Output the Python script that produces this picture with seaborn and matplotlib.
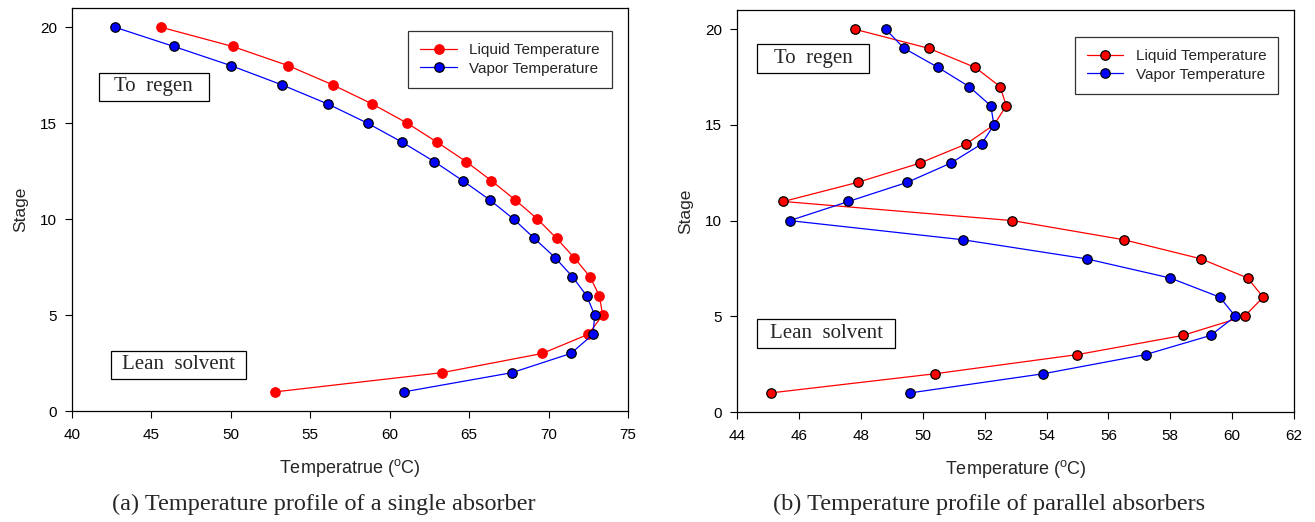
"""
Temperature profiles of a single absorber and parallel absorbers.
"""

import matplotlib

matplotlib.use("Agg")
import matplotlib.pyplot as plt
import pandas as pd
import seaborn as sns
from matplotlib.patches import Rectangle

stages = list(range(20, 0, -1))

# (a) single absorber, stage 20 -> 1
single_liquid = [45.6, 50.1, 53.6, 56.4, 58.9, 61.1, 63.0, 64.8, 66.4, 67.9,
                 69.3, 70.5, 71.6, 72.6, 73.2, 73.4, 72.5, 69.6, 63.3, 52.8]
single_vapor = [42.7, 46.4, 50.0, 53.2, 56.1, 58.6, 60.8, 62.8, 64.6, 66.3,
                67.8, 69.1, 70.4, 71.5, 72.4, 72.9, 72.8, 71.4, 67.7, 60.9]

# (b) parallel absorbers, stage 20 -> 1
parallel_liquid = [47.8, 50.2, 51.7, 52.5, 52.7, 52.3, 51.4, 49.9, 47.9, 45.5,
                   52.9, 56.5, 59.0, 60.5, 61.0, 60.4, 58.4, 55.0, 50.4, 45.1]
parallel_vapor = [48.8, 49.4, 50.5, 51.5, 52.2, 52.3, 51.9, 50.9, 49.5, 47.6,
                  45.7, 51.3, 55.3, 58.0, 59.6, 60.1, 59.3, 57.2, 53.9, 49.6]

series_names = ["Liquid Temperature", "Vapor Temperature"]
SERIF = ["Liberation Serif", "DejaVu Serif"]

sns.set_style("ticks")
plt.rcParams["font.family"] = ["Liberation Sans", "DejaVu Sans"]
plt.rcParams["mathtext.default"] = "regular"

fig = plt.figure(figsize=(13.15, 5.22), dpi=100)
ax_a = fig.add_axes([0.0548, 0.2126, 0.4228, 0.772])
ax_b = fig.add_axes([0.5605, 0.2107, 0.4236, 0.770])


def draw_panel(ax, liquid, vapor, red_edge, xlim, xticks, xlabel, legend_anchor, boxes):
    df = pd.DataFrame({
        "stage": stages * 2,
        "temp": liquid + vapor,
        "series": [series_names[0]] * 20 + [series_names[1]] * 20,
    })
    styles = {
        series_names[0]: dict(color="#ff0000", mec=red_edge),
        series_names[1]: dict(color="#0000ff", mec="black"),
    }
    for name, g in df.groupby("series", sort=False):
        st = styles[name]
        sns.lineplot(data=g, x="temp", y="stage", sort=False, estimator=None, ax=ax,
                     color=st["color"], marker="o", markersize=6.8,
                     markeredgecolor=st["mec"], markeredgewidth=0.9,
                     linewidth=0.9, label=name, zorder=3)
    ax.set_xlim(*xlim)
    ax.set_ylim(0, 21)
    ax.set_xticks(xticks)
    ax.set_yticks([0, 5, 10, 15, 20])
    ax.tick_params(direction="out", length=5, width=0.8, labelsize=11, colors="black")
    ax.tick_params(axis="x", pad=7)
    ax.tick_params(axis="y", pad=6)
    for sp in ax.spines.values():
        sp.set_visible(True)
        sp.set_color("black")
        sp.set_linewidth(0.9)
    ax.set_xlabel(xlabel, fontsize=13, labelpad=11)
    ax.set_ylabel("Stage", fontsize=12.5, labelpad=8)
    leg = ax.legend(loc="upper right", bbox_to_anchor=legend_anchor, borderaxespad=0,
                    fancybox=False, edgecolor="black", fontsize=11, handlelength=2.4,
                    borderpad=0.8, labelspacing=0.3)
    leg.get_frame().set_linewidth(0.9)
    for (x0, x1, y0, y1, txt) in boxes:
        ax.add_patch(Rectangle((x0, y0), x1 - x0, y1 - y0, fc="white", ec="black",
                               lw=0.9, zorder=4))
        ax.text((x0 + x1) / 2, (y0 + y1) / 2, txt, ha="center", va="center",
                fontsize=15, family=SERIF, zorder=5)


draw_panel(ax_a, single_liquid, single_vapor, "#ff0000", (40, 75),
           [40, 45, 50, 55, 60, 65, 70, 75], "Temperatrue ($^{o}$C)", (0.971, 0.943),
           [(41.7, 48.6, 16.15, 17.63, "To  regen"),
            (42.44, 50.95, 1.68, 3.15, "Lean  solvent")])
draw_panel(ax_b, parallel_liquid, parallel_vapor, "black", (44, 62),
           [44, 46, 48, 50, 52, 54, 56, 58, 60, 62], "Temperature ($^{o}$C)", (0.972, 0.933),
           [(44.65, 48.27, 17.72, 19.24, "To  regen"),
            (44.65, 49.1, 3.35, 4.87, "Lean  solvent")])

fig.text(0.2464, 0.033, "(a) Temperature profile of a single absorber", ha="center",
         va="center", fontsize=17.5, family=SERIF)
fig.text(0.752, 0.033, "(b) Temperature profile of parallel absorbers", ha="center",
         va="center", fontsize=17.5, family=SERIF)

fig.savefig("out.png", dpi=100)
